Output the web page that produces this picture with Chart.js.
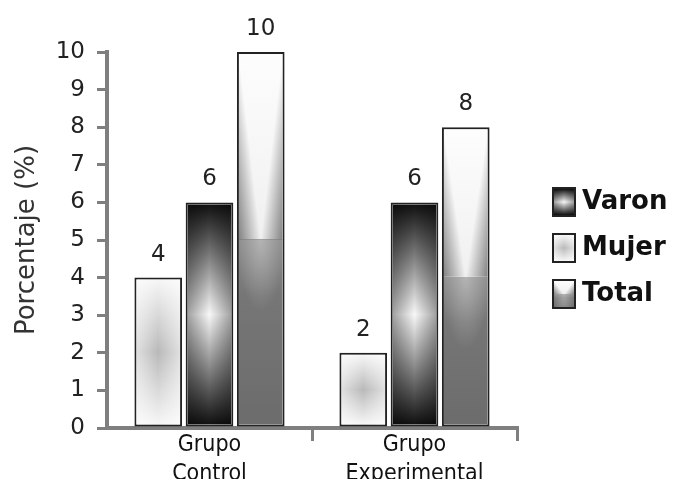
<!DOCTYPE html>
<html>
<head>
<meta charset="utf-8">
<script src="https://cdn.jsdelivr.net/npm/chart.js@4/dist/chart.umd.min.js"></script>
<style>
  html, body { margin: 0; padding: 0; background: #fff; }
  #wrap { width: 673px; height: 479px; position: relative; }
</style>
</head>
<body>
<div id="wrap"><canvas id="chart"></canvas></div>
<script>
const categories = [['Grupo', 'Control'], ['Grupo', 'Experimental']];
const seriesNames = ['Mujer', 'Varon', 'Total'];
const mujer = [4, 2];
const varon = [6, 6];
const total = [10, 8];
const yMin = 0, yMax = 10, yStep = 1;
const legendOrder = ['Varon', 'Mujer', 'Total'];

const AXIS = '#7f7f7f';
const BORDER = '#222';

// mitered shading: triangle A-B-C, transparent along A-C, colour c at corner B
function wedge(ctx, A, B, C, c) {
  const dx = C[0] - A[0], dy = C[1] - A[1];
  const t = ((B[0] - A[0]) * dx + (B[1] - A[1]) * dy) / (dx * dx + dy * dy);
  const F = [A[0] + t * dx, A[1] + t * dy];
  const g = ctx.createLinearGradient(F[0], F[1], B[0], B[1]);
  g.addColorStop(0, 'rgba(0,0,0,0)');
  g.addColorStop(1, c);
  ctx.fillStyle = g;
  ctx.beginPath();
  ctx.moveTo(A[0], A[1]); ctx.lineTo(B[0], B[1]); ctx.lineTo(C[0], C[1]);
  ctx.closePath();
  ctx.fill();
}

// fills one bar (or legend swatch) with the grey gradient of its series
function paintFill(ctx, kind, x, y, w, h) {
  ctx.save();
  ctx.beginPath();
  ctx.rect(x, y, w, h);
  ctx.clip();
  const cx = x + w / 2, my = y + h / 2;
  let g = ctx.createLinearGradient(0, y, 0, y + h);
  if (kind === 'Mujer') {
    g.addColorStop(0, '#f6f6f6'); g.addColorStop(0.5, '#b9b9b9'); g.addColorStop(1, '#f6f6f6');
  } else if (kind === 'Varon') {
    g.addColorStop(0, '#111'); g.addColorStop(0.5, '#f8f8f8'); g.addColorStop(1, '#111');
  } else {
    g.addColorStop(0, '#fdfdfd'); g.addColorStop(0.499, '#f0f0f0');
    g.addColorStop(0.5, '#8c8c8c'); g.addColorStop(0.65, '#767676'); g.addColorStop(1, '#6c6c6c');
  }
  ctx.fillStyle = g;
  ctx.fillRect(x, y, w, h);

  if (kind === 'Mujer') {
    const hg = ctx.createLinearGradient(x, 0, x + w, 0);
    hg.addColorStop(0, 'rgba(255,255,255,0.55)'); hg.addColorStop(0.5, 'rgba(255,255,255,0)'); hg.addColorStop(1, 'rgba(255,255,255,0.55)');
    ctx.fillStyle = hg; ctx.fillRect(x, y, w, h);
  } else if (kind === 'Varon') {
    const hg = ctx.createLinearGradient(x, 0, x + w, 0);
    hg.addColorStop(0, 'rgba(0,0,0,0.35)'); hg.addColorStop(0.5, 'rgba(0,0,0,0)'); hg.addColorStop(1, 'rgba(0,0,0,0.35)');
    ctx.fillStyle = hg; ctx.fillRect(x, y, w, h);
  } else {
    // top half: sides grey down towards the middle, centre column stays white
    wedge(ctx, [x, y], [x, my], [cx, my], 'rgba(0,0,0,0.45)');
    wedge(ctx, [x + w, y], [x + w, my], [cx, my], 'rgba(0,0,0,0.45)');
    // bottom half: light cone under the middle
    ctx.save();
    ctx.beginPath(); ctx.rect(x, my, w, h / 2); ctx.clip();
    ctx.translate(cx, my); ctx.scale(1, 3);
    const rg = ctx.createRadialGradient(0, 0, 0, 0, 0, w * 0.55);
    rg.addColorStop(0, 'rgba(255,255,255,0.35)'); rg.addColorStop(1, 'rgba(255,255,255,0)');
    ctx.fillStyle = rg;
    ctx.fillRect(-w, 0, 2 * w, h);
    ctx.restore();
  }
  ctx.restore();
}

// legend swatch: wide transparent canvas, box drawn on its right part
function swatch(kind) {
  const c = document.createElement('canvas');
  c.width = 50; c.height = 30;
  const ctx = c.getContext('2d');
  ctx.fillStyle = BORDER;
  ctx.fillRect(24, 0, 24, 30);
  paintFill(ctx, kind, 26, 2, 20, 26);
  return c;
}
const swatches = {};
seriesNames.forEach(n => swatches[n] = swatch(n));

const barFill = {
  id: 'barFill',
  afterLayout(chart) {
    // nudge the legend block down to sit where the reference has it
    chart.legend.top += 8;
    chart.legend.bottom += 8;
  },
  afterDatasetsDraw(chart) {
    const ctx = chart.ctx;
    chart.data.datasets.forEach((ds, i) => {
      const meta = chart.getDatasetMeta(i);
      meta.data.forEach((bar, j) => {
        const p = bar.getProps(['x', 'y', 'base', 'width'], true);
        const bw = 2;
        paintFill(ctx, ds.label, p.x - p.width / 2 + bw, p.y + bw, p.width - 2 * bw, p.base - p.y - 2 * bw);
        ctx.save();
        ctx.font = '23px "DejaVu Sans"';
        ctx.fillStyle = '#222';
        ctx.textAlign = 'center';
        ctx.textBaseline = 'alphabetic';
        ctx.fillText(String(ds.data[j]), p.x, p.y - 17);
        ctx.restore();
      });
    });
  }
};

const values = { Mujer: mujer, Varon: varon, Total: total };

new Chart(document.getElementById('chart'), {
  type: 'bar',
  data: {
    labels: categories,
    datasets: seriesNames.map(n => ({
      label: n,
      data: values[n],
      backgroundColor: '#bbb',
      borderColor: BORDER,
      borderWidth: 2,
      borderSkipped: false,
      categoryPercentage: 0.75,
      barPercentage: 0.93
    }))
  },
  options: {
    responsive: true, maintainAspectRatio: false,
    animation: false,
    layout: { padding: { top: 52, bottom: 0, left: 0, right: 0 } },
    plugins: {
      tooltip: { enabled: false },
      legend: {
        display: true, position: 'right', align: 'center',
        fullSize: false,
        maxWidth: 156,
        labels: {
          usePointStyle: true,
          pointStyleWidth: 32,
          padding: 20,
          color: '#111',
          font: { family: 'DejaVu Sans', size: 26, weight: 'bold' },
          sort: (a, b) => legendOrder.indexOf(a.text) - legendOrder.indexOf(b.text),
          generateLabels: chart => Chart.defaults.plugins.legend.labels.generateLabels(chart)
            .map(it => ({ ...it, pointStyle: swatches[it.text] }))
        }
      }
    },
    scales: {
      x: {
        afterFit: s => { s.height = 51; },
        border: { display: true, color: AXIS, width: 4 },
        grid: {
          drawOnChartArea: false, drawTicks: true, tickLength: 13, lineWidth: 3,
          color: ctx => ctx.index === 0 ? 'rgba(0,0,0,0)' : AXIS
        },
        ticks: {
          padding: -10,
          color: '#111',
          font: { family: '"Liberation Sans Narrow", "DejaVu Sans Condensed", Roboto, sans-serif', size: 23, lineHeight: 1.25 }
        }
      },
      y: {
        min: yMin, max: yMax,
        afterFit: s => { s.width = 107; },
        border: { display: true, color: AXIS, width: 4 },
        grid: { drawOnChartArea: false, drawTicks: true, tickLength: 10, lineWidth: 3, color: AXIS },
        ticks: {
          stepSize: yStep, padding: 12, color: '#222',
          font: { family: 'DejaVu Sans', size: 23 }
        },
        title: {
          display: true, text: 'Porcentaje (%)', color: '#333',
          font: { family: 'DejaVu Sans', size: 26, lineHeight: 1.2 },
          padding: { top: 12, bottom: 0 }
        }
      }
    }
  },
  plugins: [barFill]
});
</script>
</body>
</html>
